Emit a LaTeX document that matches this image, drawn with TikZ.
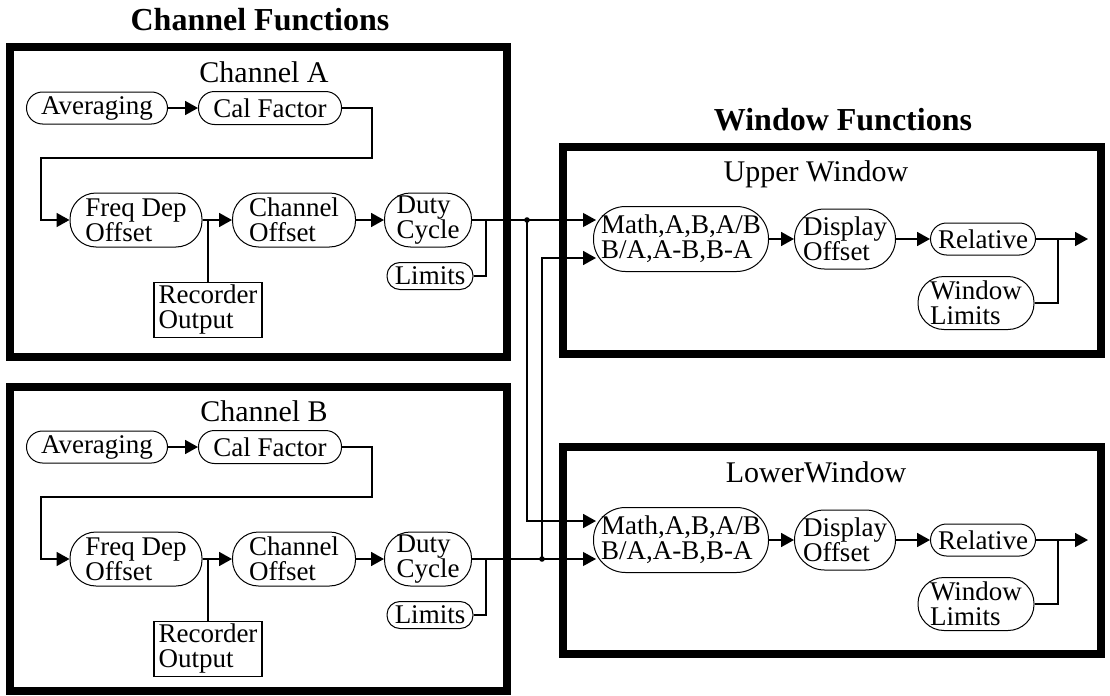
\documentclass[tikz,border=0pt]{standalone}
\usepackage{fontspec}
\setmainfont{Liberation Serif}
\usetikzlibrary{calc,arrows.meta,positioning}

\begin{document}
\begin{tikzpicture}[x=0.5pt,y=-0.5pt,
	font=\fontsize{13.5}{12.5}\selectfont,
	pill/.style={draw,line width=0.5pt,rounded corners=#1,inner sep=1pt,align=left},
	pill/.default=8pt,
	recbox/.style={draw,line width=0.7pt,inner sep=1pt,align=left,minimum width=54pt,minimum height=27.5pt},
	frame/.style={line width=4pt,line join=miter},
	conn/.style={line width=0.9pt},
	arr/.style={conn,-{Triangle[length=6.5pt,width=7pt]}},
	heading/.style={font=\fontsize{16}{18}\selectfont\bfseries},
	boxtitle/.style={font=\fontsize{15}{16}\selectfont}
]
	\useasboundingbox (0,0) rectangle (1110,696);

	%% Headings
	\node[heading] (chanfun) at (260,20) {Channel Functions};
	\node[heading] (winfun) at (843,120) {Window Functions};

	%% Channel A
	\draw[frame] (10,47) rectangle (507,357);
	\node[boxtitle] (titleA) at (264,72) {Channel A};
	\node[pill,minimum width=70.5pt,minimum height=16pt] (avgA) at (97,108) {Averaging};
	\node[pill,minimum width=71.5pt,minimum height=16.5pt] (calA) at (270,108) {Cal Factor};
	\node[pill=13pt,minimum width=66pt,minimum height=27pt] (freqA) at (136,220) {Freq Dep\\Offset};
	\node[pill=13pt,minimum width=61.5pt,minimum height=27pt] (chanA) at (294,220) {Channel\\Offset};
	\node[pill=13pt,minimum width=43.5pt,minimum height=27pt] (dutyA) at (428,220) {Duty\\Cycle};
	\node[pill=6.5pt,minimum width=43pt,minimum height=13.5pt] (limA) at (430,276) {Limits};
	\node[recbox] (recA) at (208,310) {Recorder\\Output};

	\coordinate (fbA1) at (372,158); % feedback corner, right
	\coordinate (fbA2) at (41,158);  % feedback corner, left
	\coordinate (limjA) at (486,220);
	\coordinate (dotA) at (527,220);

	\draw[arr] (avgA) -- (calA);
	\draw[arr] (calA.east) -| (fbA1) -- (fbA2) |- (freqA.west);
	\draw[arr] (freqA) -- (chanA);
	\draw[arr] (chanA) -- (dutyA);
	\draw[conn] (recA.north) -- (recA.north |- freqA.east);
	\draw[conn] (limA.east) -| (limjA);

	%% Channel B
	\draw[frame] (10,387) rectangle (507,691);
	\node[boxtitle] (titleB) at (264,411) {Channel B};
	\node[pill,minimum width=70.5pt,minimum height=16pt] (avgB) at (97,447) {Averaging};
	\node[pill,minimum width=71.5pt,minimum height=16.5pt] (calB) at (270,447) {Cal Factor};
	\node[pill=13pt,minimum width=66pt,minimum height=27pt] (freqB) at (136,559) {Freq Dep\\Offset};
	\node[pill=13pt,minimum width=61.5pt,minimum height=27pt] (chanB) at (294,559) {Channel\\Offset};
	\node[pill=13pt,minimum width=43.5pt,minimum height=27pt] (dutyB) at (428,559) {Duty\\Cycle};
	\node[pill=6.5pt,minimum width=43pt,minimum height=13.5pt] (limB) at (430,615) {Limits};
	\node[recbox] (recB) at (208,649) {Recorder\\Output};

	\coordinate (fbB1) at (372,497);
	\coordinate (fbB2) at (41,497);
	\coordinate (limjB) at (486,559);
	\coordinate (dotB) at (542,559);

	\draw[arr] (avgB) -- (calB);
	\draw[arr] (calB.east) -| (fbB1) -- (fbB2) |- (freqB.west);
	\draw[arr] (freqB) -- (chanB);
	\draw[arr] (chanB) -- (dutyB);
	\draw[conn] (recB.north) -- (recB.north |- freqB.east);
	\draw[conn] (limB.east) -| (limjB);

	%% Upper Window
	\draw[frame] (563,147) rectangle (1101,354);
	\node[boxtitle] (titleU) at (816,174) {Upper Window};
	\node[pill=16pt,minimum width=87.5pt,minimum height=32.5pt] (mathU) at (681,239) {Math,A,B,A/B\\B/A,A-B,B-A};
	\node[pill=15pt,minimum width=50.5pt,minimum height=30pt] (dispU) at (845,239) {Display\\Offset};
	\node[pill,minimum width=52.5pt,minimum height=16pt] (relU) at (983,239) {Relative};
	\node[pill=13pt,minimum width=58pt,minimum height=26.5pt] (wlimU) at (976,303) {Window\\Limits};

	\coordinate (jU) at (1058,239);
	\coordinate (outU) at (1088,239);
	\draw[arr] (mathU) -- (dispU);
	\draw[arr] (dispU) -- (relU);
	\draw[arr] (relU.east) -- (outU);
	\draw[conn] (wlimU.east) -| (jU);

	%% LowerWindow
	\draw[frame] (563,447) rectangle (1101,654);
	\node[boxtitle] (titleL) at (816,472) {LowerWindow};
	\node[pill=16pt,minimum width=87.5pt,minimum height=32.5pt] (mathL) at (681,540) {Math,A,B,A/B\\B/A,A-B,B-A};
	\node[pill=15pt,minimum width=50.5pt,minimum height=30pt] (dispL) at (845,540) {Display\\Offset};
	\node[pill,minimum width=52.5pt,minimum height=16pt] (relL) at (983,540) {Relative};
	\node[pill=13pt,minimum width=58pt,minimum height=26.5pt] (wlimL) at (976,604) {Window\\Limits};

	\coordinate (jL) at (1058,540);
	\coordinate (outL) at (1088,540);
	\draw[arr] (mathL) -- (dispL);
	\draw[arr] (dispL) -- (relL);
	\draw[arr] (relL.east) -- (outL);
	\draw[conn] (wlimL.east) -| (jL);

	%% Channel outputs into the windows
	\coordinate (inUA) at (596,220);
	\coordinate (inUB) at (596,258);
	\coordinate (inLA) at (596,521);
	\coordinate (inLB) at (596,559);

	\draw[line width=0.6pt] (dutyA.east) -- (dotA);
	\draw[arr,line width=0.6pt] (dotA) -- (inUA);
	\draw[arr] (dotA) |- (inLA);
	\fill (dotA) circle[radius=1.4pt];

	\draw[line width=0.6pt] (dutyB.east) -- (dotB);
	\draw[arr,line width=0.6pt] (dotB) -- (inLB);
	\draw[arr] (dotB) |- (inUB);
	\fill (dotB) circle[radius=1.4pt];
\end{tikzpicture}
\end{document}
